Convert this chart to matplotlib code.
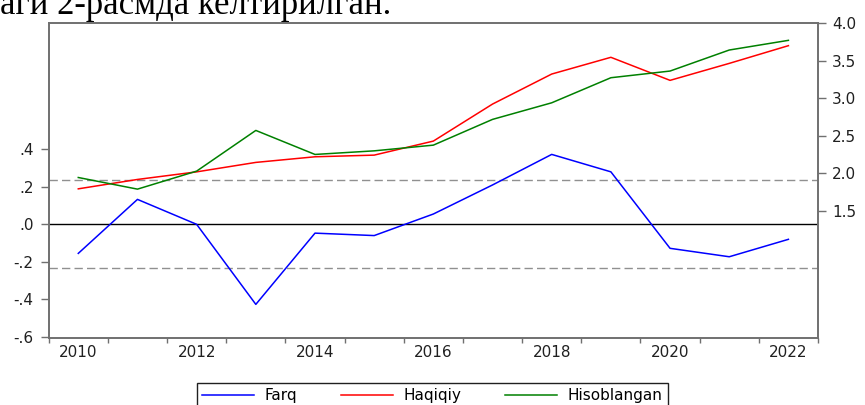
import matplotlib
matplotlib.use('Agg')
import matplotlib.pyplot as plt
from matplotlib.ticker import FixedLocator

years = list(range(2010, 2023))
farq = [-0.155, 0.133, 0.0, -0.427, -0.047, -0.060, 0.055, 0.21, 0.373, 0.28, -0.128, -0.173, -0.08]
haqiqiy = [1.791, 1.916, 2.017, 2.143, 2.218, 2.24, 2.427, 2.92, 3.32, 3.543, 3.236, 3.462, 3.698]
hisoblangan = [1.942, 1.787, 2.027, 2.569, 2.249, 2.297, 2.373, 2.716, 2.937, 3.271, 3.36, 3.64, 3.769]
se_band = 0.234

left_ticks = [-0.6, -0.4, -0.2, 0.0, 0.2, 0.4]
left_labels = ['-.6', '-.4', '-.2', '.0', '.2', '.4']
right_ticks = [1.5, 2.0, 2.5, 3.0, 3.5, 4.0]
right_labels = ['1.5', '2.0', '2.5', '3.0', '3.5', '4.0']
x_labels = [2010, 2012, 2014, 2016, 2018, 2020, 2022]

spine_col = '#707070'
txt_col = '#202020'
tick_font = {'family': 'DejaVu Sans', 'size': 11}

fig = plt.figure(figsize=(8.65, 4.05), dpi=100)
ax = fig.add_axes([48.7 / 865, 1 - 338.3 / 405, (818 - 48.7) / 865, (338.3 - 23) / 405])
ax2 = ax.twinx()

# residual on the left scale
ax.axhline(0, color='black', lw=1.0, zorder=1)
ax.axhline(se_band, color='#909090', lw=1.0, ls=(0, (6, 3)), zorder=1)
ax.axhline(-se_band, color='#909090', lw=1.0, ls=(0, (6, 3)), zorder=1)
l1, = ax.plot(years, farq, color='#0000ff', lw=1.1, label='Farq', zorder=3)

# actual and fitted on the right scale
l2, = ax2.plot(years, haqiqiy, color='#ff0000', lw=1.1, label='Haqiqiy')
l3, = ax2.plot(years, hisoblangan, color='#008000', lw=1.1, label='Hisoblangan')

ax.set_xlim(2009.5, 2022.5)
ax.set_ylim(-0.608, 1.074)
ax2.set_ylim(-0.2, 4.0)

ax.set_xticks(x_labels)
ax.set_xticklabels([str(y) for y in x_labels], fontdict=tick_font, color=txt_col)
ax.xaxis.set_minor_locator(FixedLocator([y - 0.5 for y in years] + [2022.5]))
ax.tick_params(axis='x', which='major', length=0, pad=5)
ax.tick_params(axis='x', which='minor', length=3.6, width=1, color=spine_col, direction='out')

ax.set_yticks(left_ticks)
ax.set_yticklabels(left_labels, fontdict=tick_font, color=txt_col)
ax.tick_params(axis='y', length=5.8, width=1, color=spine_col, pad=5)

ax2.set_yticks(right_ticks)
ax2.set_yticklabels(right_labels, fontdict=tick_font, color=txt_col)
ax2.tick_params(axis='y', length=5.8, width=1, color=spine_col, pad=4.3)

for a in (ax, ax2):
    for s in a.spines.values():
        s.set_color(spine_col)
        s.set_linewidth(1.2)

fig.legend(handles=[l1, l2, l3], loc='upper left', ncol=3, mode='expand',
           bbox_to_anchor=(197 / 865, 0.0, (668 - 197) / 865, 1 - 383 / 405),
           prop={'family': 'DejaVu Sans', 'size': 11}, handlelength=3.4,
           handletextpad=0.7, columnspacing=1.0, borderaxespad=0, borderpad=0.35,
           fancybox=False, framealpha=1, edgecolor='#202020')

fig.text(0.0, 1 - 14.5 / 405, 'аги 2-расмда келтирилган.', family='Liberation Serif',
         fontsize=25, va='baseline', ha='left', color='black')

fig.savefig('out.png', dpi=100)
